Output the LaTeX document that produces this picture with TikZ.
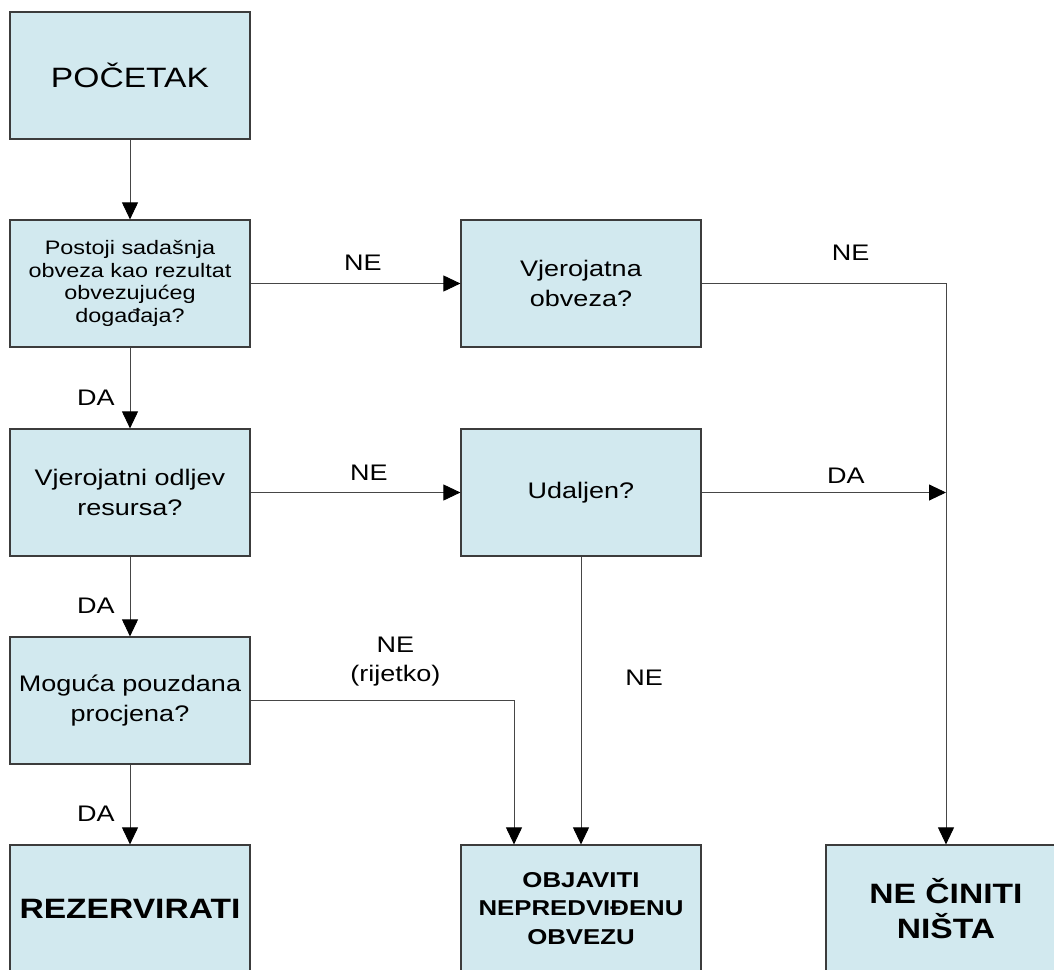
\documentclass[tikz,border=0pt]{standalone}
\usepackage{fontspec}
\setmainfont{Liberation Sans}[FakeStretch=1.2]
\usetikzlibrary{arrows.meta}
\definecolor{boxfill}{RGB}{210,233,239}
\definecolor{boxline}{RGB}{60,60,60}
\definecolor{flowline}{RGB}{70,70,70}

\begin{document}
\begin{tikzpicture}[x=1pt, y=-1pt,
    stepbox/.style={rectangle, draw=boxline, line width=1.2pt, fill=boxfill, minimum width=240pt, minimum height=127pt, align=center, inner sep=0pt, font=\fontsize{22.5}{29.5}\selectfont},
    endbox/.style={stepbox, font=\bfseries\fontsize{28}{35}\selectfont},
    flow/.style={draw=flowline, line width=0.9pt, -{Triangle[length=17pt, width=16pt, color=black]}},
    answer/.style={inner sep=2pt, align=center, font=\fontsize{22.5}{29}\selectfont}]

    \useasboundingbox (0,0) rectangle (1054,969);

    % Draw the boxes of the left column
    \node[stepbox, font=\fontsize{28}{34}\selectfont] (start) at (130,75.5) {POČETAK};
    \node[stepbox, font=\fontsize{19.5}{22.5}\selectfont] (present) at (130,283.5) {Postoji sadašnja\\obveza kao rezultat\\obvezujućeg\\događaja?};
    \node[stepbox] (outflow) at (130,492.5) {Vjerojatni odljev\\resursa?};
    \node[stepbox] (estimate) at (130,700.5) {Moguća pouzdana\\procjena?};
    \node[endbox] (provide) at (130,908.5) {REZERVIRATI};

    % Draw the boxes of the middle column
    \node[stepbox] (possible) at (581,283.5) {Vjerojatna\\obveza?};
    \node[stepbox] (remote) at (581,492.5) {Udaljen?};
    \node[endbox, font=\bfseries\fontsize{21.5}{28.5}\selectfont] (disclose) at (581,908.5) {OBJAVITI\\NEPREDVIĐENU\\OBVEZU};

    % Draw the box of the right column
    \node[endbox] (nothing) at (946,908.5) {NE ČINITI\\NIŠTA};

    % Draw the DA connectors down the left column
    \draw[flow] (start) -- (present);
    \foreach \from/\to in {present/outflow, outflow/estimate, estimate/provide}
        \draw[flow] (\from) -- node[answer, pos=0.62, left=13pt] {DA} (\to);

    % Draw the NE connectors to the right
    \draw[flow] (present) -- node[answer, pos=0.535, above=11pt] {NE} (possible);
    \draw[flow] (possible) -| node[answer, pos=0.305, above=21pt] {NE} (nothing);
    \draw[flow] (outflow) -- node[answer, pos=0.564, above=10pt] {NE} (remote);

    % Udaljen joins the line to the right
    \coordinate (join) at (remote.east -| nothing.north);
    \draw[flow] (remote) -- node[answer, pos=0.59, above=7pt] {DA} (join);

    % Draw the connectors into the disclosure box
    \draw[flow] (estimate) -| node[answer, pos=0.275, above=12pt] {NE\\(rijetko)} ([xshift=-67pt]disclose.north);
    \draw[flow] (remote) -- node[answer, pos=0.42, right=42pt] {NE} (disclose);
\end{tikzpicture}
\end{document}
